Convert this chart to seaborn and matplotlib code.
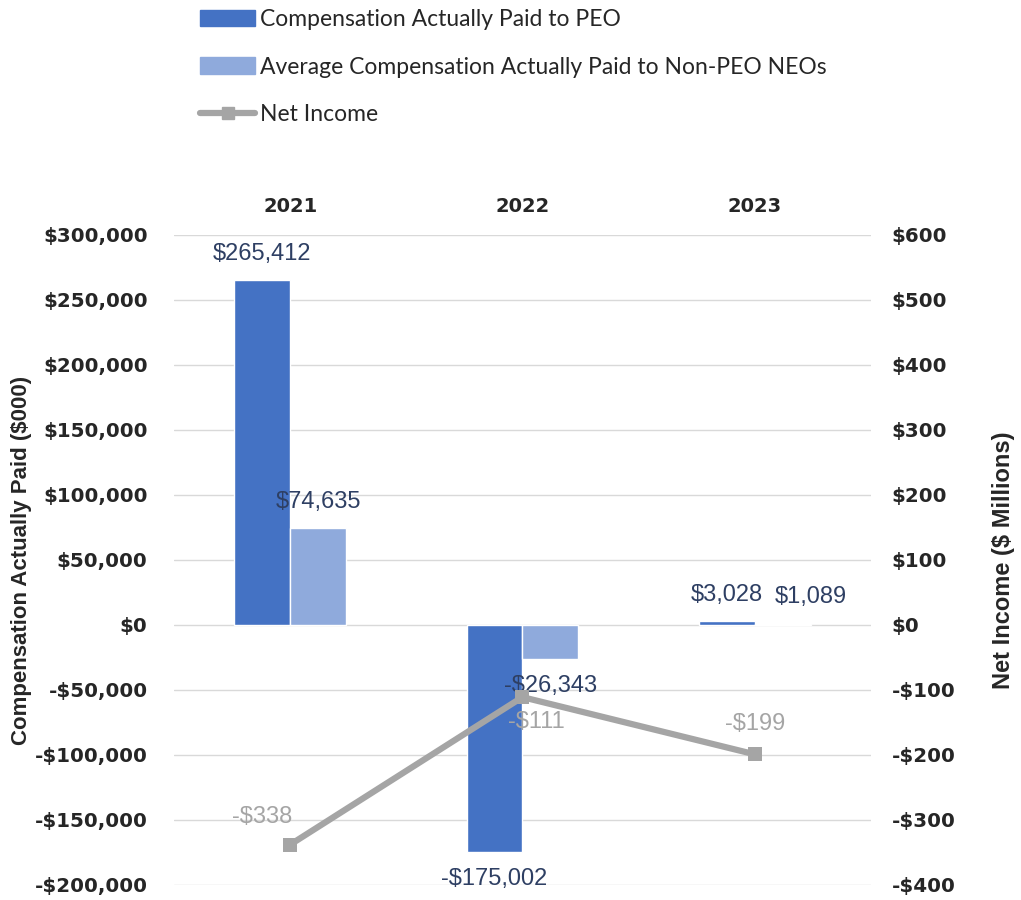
import numpy as np
import pandas as pd
import matplotlib
matplotlib.use("Agg")
from matplotlib import pyplot as plt
from matplotlib.patches import Patch
from matplotlib.lines import Line2D
import seaborn as sns

years = ['2021', '2022', '2023']
peo_cap = [265412, -175002, 3028]
non_peo_cap = [74635, -26343, 1089]
net_income = [-338, -111, -199]

series_names = ['Compensation Actually Paid to PEO',
                'Average Compensation Actually Paid to Non-PEO NEOs']
left_ticks = [-200000, -150000, -100000, -50000, 0, 50000, 100000, 150000, 200000, 250000, 300000]
right_ticks = [-400, -300, -200, -100, 0, 100, 200, 300, 400, 500, 600]

df = pd.DataFrame({
    'year': years * 2,
    'series': [series_names[0]] * 3 + [series_names[1]] * 3,
    'value': peo_cap + non_peo_cap,
})

c_peo = '#4472C4'
c_non = '#8FAADC'
c_line = '#A5A5A5'
c_lab = '#2E3F63'
c_tick = '#262626'

sns.set_theme(style='white')
plt.rcParams['font.family'] = ['DejaVu Sans']

fig = plt.figure(figsize=(10.21, 9), dpi=100)
ax = fig.add_axes([0.1704, 0.0167, 0.6826, 0.7222])

sns.barplot(data=df, x='year', y='value', hue='series', palette=[c_peo, c_non],
            width=0.48, ax=ax, legend=False, saturation=1)
ax.set_xlim(-0.5, 2.5)
ax.set_ylim(-200000, 300000)
ax.set_yticks(left_ticks)
ax.set_yticklabels([('-$' if v < 0 else '$') + f'{abs(v):,}' for v in left_ticks],
                   fontweight='bold', fontsize=14.3, color=c_tick)
ax.yaxis.grid(True, color='#D9D9D9', linewidth=1)
ax.set_axisbelow(True)
ax.xaxis.tick_top()
ax.set_xlabel('')
ax.set_xticks(range(3))
ax.set_xticklabels(years, fontweight='bold', fontsize=14, color=c_tick)
ax.tick_params(axis='x', length=0, pad=14)
ax.tick_params(axis='y', length=0, pad=19)
ax.set_ylabel('Compensation Actually Paid ($000)', family='Liberation Sans', fontweight='bold',
              fontsize=16, color=c_tick, labelpad=2)
for s in ax.spines.values():
    s.set_visible(False)

# bar value labels
label_shift = {(2, 1): 0.12}
for j, vals in enumerate([peo_cap, non_peo_cap]):
    off = -0.12 if j == 0 else 0.12
    for i, v in enumerate(vals):
        txt = ('-$' if v < 0 else '$') + f'{abs(v):,}'
        dy = 11 if v >= 0 else -11
        ax.annotate(txt, (i + off + label_shift.get((i, j), 0), v), xytext=(0, dy),
                    textcoords='offset points', ha='center',
                    va='bottom' if v >= 0 else 'top',
                    family='Liberation Sans', fontsize=17, color=c_lab)

ax2 = ax.twinx()
sns.lineplot(x=np.arange(3), y=net_income, ax=ax2, color=c_line, linewidth=4.5,
             marker='s', markersize=10, markeredgewidth=0)
ax2.set_ylim(-400, 600)
ax2.set_yticks(right_ticks)
ax2.set_yticklabels([('-$' if v < 0 else '$') + f'{abs(v):,}' for v in right_ticks],
                    fontweight='bold', fontsize=14.3, color=c_tick)
ax2.tick_params(axis='y', length=0, pad=15)
ax2.set_ylabel('Net Income ($ Millions)', family='Liberation Sans', fontweight='bold',
               fontsize=17, color=c_tick, labelpad=26)
ax2.grid(False)
for s in ax2.spines.values():
    s.set_visible(False)

ni_offsets = [(-20, 20), (10, -18), (0, 22)]
for i, v in enumerate(net_income):
    ax2.annotate(f'-${abs(v)}', (i, v), xytext=ni_offsets[i], textcoords='offset points',
                 ha='center', va='center', family='Liberation Sans', fontsize=17, color=c_line)

handles = [Patch(color=c_peo), Patch(color=c_non),
           Line2D([0], [0], color=c_line, linewidth=4.5, marker='s', markersize=9)]
fig.legend(handles, series_names + ['Net Income'], loc='upper left',
           bbox_to_anchor=(0.176, 1.013), frameon=False, prop={'family': 'Lato', 'size': 16.5},
           handlelength=2.4, handleheight=0.7, handletextpad=0.2, labelspacing=1.16,
           labelcolor='#262626')

fig.savefig('out.png', dpi=100)
